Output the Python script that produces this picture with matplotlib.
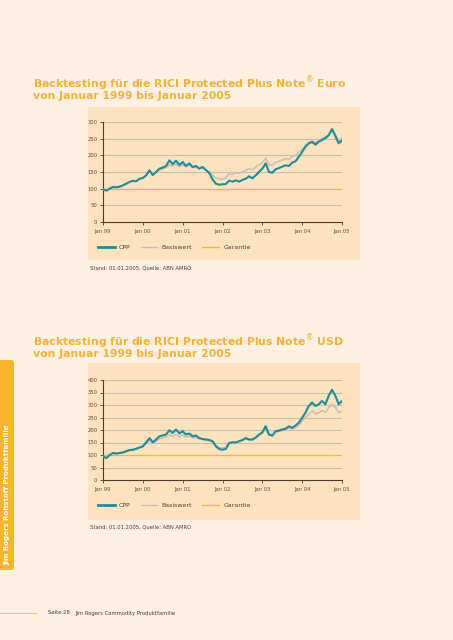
import numpy as np
import matplotlib
matplotlib.use("Agg")
from matplotlib import pyplot as plt
from matplotlib.lines import Line2D
from matplotlib.patches import Rectangle, FancyBboxPatch

# monthly values, Jan 99 .. Jan 05
eur_cpp = [98, 94, 100, 105, 104, 106, 110, 115, 120, 124, 122, 130,
           132, 140, 155, 141, 150, 160, 163, 168, 185, 174, 184, 171,
           180, 168, 176, 165, 168, 160, 165, 156, 147, 128, 115, 112,
           113, 114, 124, 121, 125, 121, 126, 130, 137, 131, 140, 150,
           160, 176, 150, 148, 158, 162, 166, 170, 168, 178, 182, 196,
           210, 226, 236, 240, 232, 241, 246, 252, 260, 279, 258, 236,
           245]
eur_basis = [98, 95, 100, 104, 104, 106, 109, 114, 119, 123, 122, 129,
             131, 139, 152, 142, 149, 157, 160, 164, 172, 168, 174, 166,
             172, 165, 170, 163, 165, 160, 163, 156, 150, 140, 132, 130,
             128, 132, 145, 142, 148, 146, 150, 155, 160, 156, 165, 172,
             178, 192, 172, 170, 178, 182, 186, 190, 188, 196, 200, 210,
             218, 230, 238, 244, 238, 245, 250, 255, 262, 275, 262, 245,
             252]
usd_cpp = [94, 88, 100, 108, 106, 108, 110, 115, 120, 121, 125, 130,
           135, 150, 168, 151, 162, 175, 178, 182, 199, 188, 202, 186,
           195, 182, 186, 175, 178, 168, 164, 162, 160, 155, 135, 124,
           121, 124, 148, 151, 150, 155, 160, 168, 162, 162, 170, 182,
           191, 215, 182, 178, 195, 198, 202, 205, 215, 209, 218, 229,
           249, 269, 296, 310, 296, 303, 316, 303, 337, 361, 337, 303,
           316]
usd_basis = [94, 89, 100, 107, 106, 108, 110, 114, 119, 120, 124, 129,
             133, 146, 160, 148, 155, 165, 168, 172, 180, 175, 182, 172,
             180, 172, 176, 168, 170, 164, 162, 160, 158, 154, 138, 130,
             128, 130, 148, 150, 150, 154, 158, 165, 160, 160, 168, 178,
             186, 205, 180, 176, 190, 194, 198, 200, 208, 203, 210, 218,
             236, 250, 265, 276, 265, 268, 278, 270, 290, 303, 290, 270,
             275]
garantie = 100
tick_years = [1999, 2000, 2001, 2002, 2003, 2004, 2005]
tick_labels = ["Jan 99", "Jan 00", "Jan 01", "Jan 02", "Jan 03", "Jan 04", "Jan 05"]

W, H = 453, 640
page_bg = '#FDF0E2'
panel_bg = '#FCE3BE'
orange = '#F5B233'
teal = '#1E8C9C'
grey = '#C6BEB8'
dark = '#4A3D30'

fig = plt.figure(figsize=(W / 100, H / 100), dpi=100, facecolor=page_bg)


def fx(px):
    return px / W


def fy(py):
    return 1 - py / H


def chart(cpp, basis, ymax, ystep, title, panel_top, panel_bottom, ax_top, ax_bottom, legend_y, stand_y, title_y):
    fig.patches.append(Rectangle((fx(88), fy(panel_bottom)), fx(360) - fx(88), fy(panel_top) - fy(panel_bottom),
                                 transform=fig.transFigure, facecolor=panel_bg, edgecolor='none', zorder=-1))
    fig.text(fx(33), fy(title_y), title, fontsize=7.8, fontweight='bold', color=orange,
             va='center', ha='left', linespacing=0.82)

    ax = fig.add_axes([fx(103), fy(ax_bottom), fx(342) - fx(103), fy(ax_top) - fy(ax_bottom)])
    ax.set_zorder(2)
    ax.set_facecolor('none')
    x = 1999 + np.arange(len(cpp)) / 12.0
    for v in np.arange(ystep, ymax + 1, ystep):
        if v != garantie:
            ax.axhline(v, color=grey, lw=0.8, zorder=1)
    ax.axhline(garantie, color='#F3B53A', lw=0.9, zorder=2)
    ax.plot(x, basis, color=grey, lw=1.1, zorder=3)
    ax.plot(x, cpp, color=teal, lw=1.5, zorder=4)
    ax.set_xlim(1999, 2005)
    ax.set_ylim(0, ymax)
    ax.set_yticks(np.arange(0, ymax + 1, ystep))
    ax.set_xticks(tick_years)
    ax.set_xticklabels(tick_labels)
    for s in ['top', 'right']:
        ax.spines[s].set_visible(False)
    for s in ['left', 'bottom']:
        ax.spines[s].set_color(dark)
        ax.spines[s].set_linewidth(0.8)
    ax.tick_params(axis='both', length=2, width=0.6, color=dark, labelsize=3.8, labelcolor='#5A5048', pad=2)
    ax.tick_params(axis='x', pad=3)

    handles = [Line2D([], [], color=teal, lw=2.0), Line2D([], [], color=grey, lw=1.0),
               Line2D([], [], color='#F3B53A', lw=1.0)]
    ax.legend(handles, ['CPP', 'Basiswert', 'Garantie'], loc='center left',
              bbox_to_anchor=(fx(92), fy(legend_y)), bbox_transform=fig.transFigure,
              ncol=3, frameon=False, fontsize=4.5, handlelength=2.7, handletextpad=0.7,
              columnspacing=1.6, labelcolor='#4A4038')
    fig.text(fx(90), fy(stand_y), 'Stand: 01.01.2005, Quelle: ABN AMRO', fontsize=3.8,
             color='#4A4038', va='center', ha='left')


chart(eur_cpp, eur_basis, 300, 50,
      'Backtesting für die RICI Protected Plus Note$^{®}$ Euro\nvon Januar 1999 bis Januar 2005',
      107, 260, 122, 222, 247, 268, 88)
chart(usd_cpp, usd_basis, 400, 50,
      'Backtesting für die RICI Protected Plus Note$^{®}$ USD\nvon Januar 1999 bis Januar 2005',
      363, 520, 380, 480, 505, 527, 346)

# side tab
fig.patches.append(FancyBboxPatch((fx(-6), fy(570)), fx(20), fy(360) - fy(570),
                                  boxstyle='round,pad=0,rounding_size=0.006', transform=fig.transFigure,
                                  facecolor='#F9B42E', edgecolor='none', zorder=-1))
fig.text(fx(7), fy(495), 'Jim Rogers Rohstoff Produktfamilie', rotation=90, fontsize=5.0,
         fontweight='bold', color='white', va='center', ha='center')

# footer
fig.add_artist(Line2D([0, fx(36)], [fy(613), fy(613)], color='#F5C560', lw=0.8, transform=fig.transFigure))
fig.text(fx(48), fy(613), 'Seite 28', fontsize=3.8, color='#4A4038', va='center', ha='left')
fig.text(fx(75), fy(613), 'Jim Rogers Commodity Produktfamilie', fontsize=3.8, color='#4A4038',
         va='center', ha='left')

fig.savefig('out.png', dpi=100, facecolor=page_bg)
